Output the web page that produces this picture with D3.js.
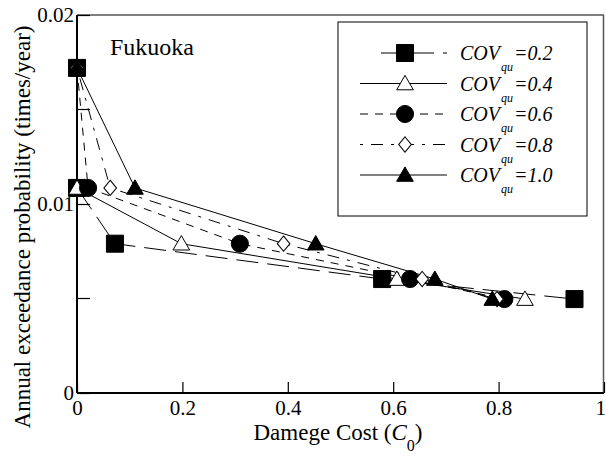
<!DOCTYPE html>
<html>
<head>
<meta charset="utf-8">
<script src="https://cdn.jsdelivr.net/npm/d3@7/dist/d3.min.js"></script>
</head>
<body style="margin:0">
<svg id="chart" width="606" height="456"></svg>
<script>
// Exceedance levels shared by every curve (times/year)
const probLevels = [0.0172, 0.01085, 0.0079, 0.00603, 0.00497];

// Damage cost C0 reached at each level, one array per COV of qu
const covLabels = ["0.2", "0.4", "0.6", "0.8", "1.0"];
const cost02 = [0, 0, 0.072, 0.579, 0.944];
const cost04 = [0, 0, 0.198, 0.607, 0.850];
const cost06 = [0, 0.021, 0.309, 0.632, 0.811];
const cost08 = [0, 0.063, 0.392, 0.655, 0.797];
const cost10 = [0, 0.110, 0.453, 0.679, 0.788];

const xTicks = [0, 0.2, 0.4, 0.6, 0.8, 1];
const xTickLabels = ["0", "0.2", "0.4", "0.6", "0.8", "1"];
const yTicks = [0, 0.01, 0.02];
const yTickLabels = ["0", "0.01", "0.02"];
const yMinorTicks = [0.005, 0.015];

const seriesCosts = [cost02, cost04, cost06, cost08, cost10];
const seriesStyle = [
  { marker: "square",   fill: "#000", dash: "22,9" },
  { marker: "triangle", fill: "#fff", dash: null },
  { marker: "circle",   fill: "#000", dash: "8,7" },
  { marker: "diamond",  fill: "#fff", dash: "3,8,12,8" },
  { marker: "triangle", fill: "#000", dash: null }
];

const FONT = "Liberation Serif";
const svg = d3.select("#chart");
const x = d3.scaleLinear().domain([0, 1]).range([77, 604]);
const y = d3.scaleLinear().domain([0, 0.02]).range([393, 15]);

// Text helper: serif face, given size, black
function serif(sel, size) {
  return sel.attr("font-family", FONT).attr("font-size", size).attr("fill", "#000");
}

// Marker shapes
const symbolType = {
  square: d3.symbolSquare,
  triangle: d3.symbolTriangle,
  circle: d3.symbolCircle,
  diamond: d3.symbolDiamond
};
const symbolSize = { square: 290, triangle: 120, circle: 230, diamond: 105 };
function drawMarker(g, style, cx, cy) {
  const sym = d3.symbol().type(symbolType[style.marker]).size(symbolSize[style.marker]);
  let t = `translate(${cx},${cy + (style.marker === "triangle" ? 1.5 : 0)})`;
  if (style.marker === "diamond") t += " scale(1.15,0.8)";
  g.append("path")
    .attr("d", sym())
    .attr("transform", t)
    .attr("fill", style.fill)
    .attr("stroke", "#000")
    .attr("stroke-width", 1);
}

// Frame: heavy left/bottom axes, lighter top/right edges
svg.append("line").attr("x1", 77).attr("x2", 604).attr("y1", 15).attr("y2", 15)
  .attr("stroke", "#555").attr("stroke-width", 1.5);
svg.append("line").attr("x1", 603.5).attr("x2", 603.5).attr("y1", 15).attr("y2", 393)
  .attr("stroke", "#555").attr("stroke-width", 1.5);

// Axes with inward ticks
const xAxis = d3.axisBottom(x).tickValues(xTicks).tickSize(-11)
  .tickFormat((d, i) => xTickLabels[i]);
const gx = svg.append("g").attr("transform", "translate(0,393)").call(xAxis);
gx.attr("font-family", FONT);
gx.select(".domain").remove();
gx.selectAll(".tick line").attr("stroke", "#000").attr("stroke-width", 1.2);
serif(gx.selectAll(".tick text"), 21).attr("y", 22).attr("dy", 0);
// last label sits against the right edge of the page
gx.selectAll(".tick text").filter(d => d === 1).attr("text-anchor", "end").attr("x", 1.5);

const yAxis = d3.axisLeft(y).tickValues(yTicks).tickSize(-13)
  .tickFormat((d, i) => yTickLabels[i]);
const gy = svg.append("g").attr("transform", "translate(77,0)").call(yAxis);
gy.attr("font-family", FONT);
gy.select(".domain").remove();
gy.selectAll(".tick line").attr("stroke", "#000").attr("stroke-width", 1.2);
serif(gy.selectAll(".tick text"), 21).attr("x", -3).attr("dy", "0.32em");

svg.append("g").selectAll("line").data(yMinorTicks).join("line")
  .attr("x1", 77).attr("x2", 90)
  .attr("y1", d => y(d)).attr("y2", d => y(d))
  .attr("stroke", "#000").attr("stroke-width", 1.2);

svg.append("line").attr("x1", 77).attr("x2", 604).attr("y1", 393).attr("y2", 393)
  .attr("stroke", "#000").attr("stroke-width", 2);
svg.append("line").attr("x1", 77).attr("x2", 77).attr("y1", 15).attr("y2", 393)
  .attr("stroke", "#000").attr("stroke-width", 2);

// Curves
const line = d3.line().x(d => x(d[0])).y(d => y(d[1]));
seriesCosts.forEach((costs, i) => {
  const pts = costs.map((c, j) => [c, probLevels[j]]);
  svg.append("path")
    .attr("d", line(pts))
    .attr("fill", "none")
    .attr("stroke", "#000")
    .attr("stroke-width", 1)
    .attr("stroke-dasharray", seriesStyle[i].dash);
});
seriesCosts.forEach((costs, i) => {
  const g = svg.append("g");
  costs.forEach((c, j) => drawMarker(g, seriesStyle[i], x(c), y(probLevels[j])));
});

// Site label
serif(svg.append("text"), 24).attr("x", 110).attr("y", 55).text("Fukuoka");

// Legend: sample line + marker, then COV with qu subscript and its value
const leg = svg.append("g");
leg.append("rect").attr("x", 338).attr("y", 22).attr("width", 249).attr("height", 194)
  .attr("fill", "#fff").attr("stroke", "#000").attr("stroke-width", 1);
covLabels.forEach((lab, i) => {
  const cy = 53 + i * 30.5;
  const st = seriesStyle[i];
  leg.append("line").attr("x1", i === 0 ? 381 : 360).attr("x2", 447)
    .attr("y1", cy).attr("y2", cy)
    .attr("stroke", "#000").attr("stroke-width", 1)
    .attr("stroke-dasharray", st.dash);
  drawMarker(leg, st, 405, cy);
  const cov = serif(leg.append("text"), 20).attr("x", 460).attr("y", cy + 7)
    .attr("font-style", "italic").text("COV");
  const covEnd = 460 + cov.node().getComputedTextLength() + 1;
  const sub = serif(leg.append("text"), 12).attr("x", covEnd).attr("y", cy + 18)
    .attr("font-style", "italic").text("qu");
  const subEnd = covEnd + sub.node().getComputedTextLength() + 1;
  serif(leg.append("text"), 20).attr("x", subEnd).attr("y", cy + 7)
    .attr("font-style", "italic").text("=" + lab);
});

// Axis titles
const xt = serif(svg.append("text"), 23).attr("x", 338).attr("y", 440)
  .attr("text-anchor", "middle");
xt.append("tspan").text("Damege Cost (");
xt.append("tspan").attr("font-style", "italic").text("C");
xt.append("tspan").attr("dy", 11).attr("font-size", 16).text("0");
xt.append("tspan").attr("dy", -11).text(")");

serif(svg.append("text"), 23)
  .attr("transform", "translate(30,227) rotate(-90)")
  .attr("text-anchor", "middle")
  .text("Annual exceedance probability (times/year)");
</script>
</body>
</html>
